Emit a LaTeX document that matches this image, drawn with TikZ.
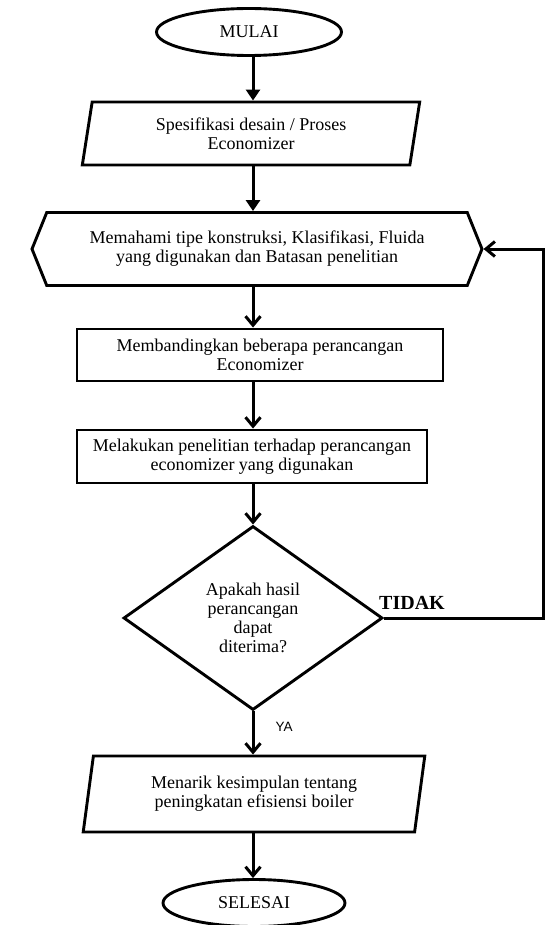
\documentclass[tikz,border=0pt]{standalone}
\usepackage{fontspec}
\setmainfont{Liberation Serif}
\newfontfamily\yafont{Liberation Sans}
\usetikzlibrary{arrows.meta,shapes.geometric,shapes.symbols}

\begin{document}
\begin{tikzpicture}[x=1pt,y=-1pt,
  box/.style={draw,line width=2.9pt,inner sep=1pt,align=center,font=\fontsize{18}{19}\selectfont},
  term/.style={box,ellipse,minimum width=185pt,minimum height=47pt},
  proses/.style={box,rectangle,minimum height=52pt},
  data/.style={box,trapezium,trapezium left angle=80,trapezium right angle=100,trapezium stretches=true},
  siap/.style={box,signal,signal to=west and east,signal pointer angle=136},
  pilih/.style={box,diamond,minimum width=259pt,minimum height=184pt},
  flow/.style={line width=3pt,-{Straight Barb[length=9pt,width=15pt,line width=3pt]}},
  flowtri/.style={line width=3pt,-{Triangle[length=11pt,width=14pt]}}]
\useasboundingbox (0,0) rectangle (545,925);
\coordinate (spine) at (253,0);
\coordinate (balik) at (543,0);
\node[term] (mulai) at (249,32){MULAI};
\node[data,minimum width=338pt,minimum height=63pt] (spek) at (251,133.5){Spesifikasi desain / Proses\\Economizer};
\node[siap,minimum width=450pt,minimum height=73pt] (paham) at (257,249){Memahami tipe konstruksi, Klasifikasi, Fluida\\yang digunakan dan Batasan penelitian};
\node[proses,minimum width=366pt] (banding) at (260,355){Membandingkan beberapa perancangan\\Economizer};
\node[proses,minimum width=350pt,minimum height=53pt] (teliti) at (252,456.5){Melakukan penelitian terhadap perancangan\\economizer yang digunakan};
\node[pilih] (cek) at (253,618){Apakah hasil\\perancangan\\dapat\\diterima?};
\node[data,minimum width=342pt,minimum height=76pt] (simpul) at (254,794){Menarik kesimpulan tentang\\peningkatan efisiensi boiler};
\node[term,minimum width=182pt] (selesai) at (254,903){SELESAI};
\node[font=\bfseries\fontsize{20}{20}\selectfont] (tidak) at (412,603){TIDAK};
\node[font=\yafont\fontsize{13.5}{14}\selectfont] (ya) at (284,727){YA};
% alur utama
\draw[flowtri] (mulai.south -| spine) -- (spek.north -| spine);
\draw[flowtri] (spek.south -| spine) -- (paham.north -| spine);
\draw[flow] (paham.south -| spine) -- (banding.north -| spine);
\draw[flow] (banding.south -| spine) -- (teliti.north -| spine);
\draw[flow] (teliti.south -| spine) -- (cek.north);
\draw[flow] (cek.south) -- (simpul.north -| spine);
\draw[flow] (simpul.south -| spine) -- (selesai.north -| spine);
% kembali jika tidak
\draw[flow] (cek.east) -- (cek.east -| balik) |- (paham.east);
\end{tikzpicture}
\end{document}
